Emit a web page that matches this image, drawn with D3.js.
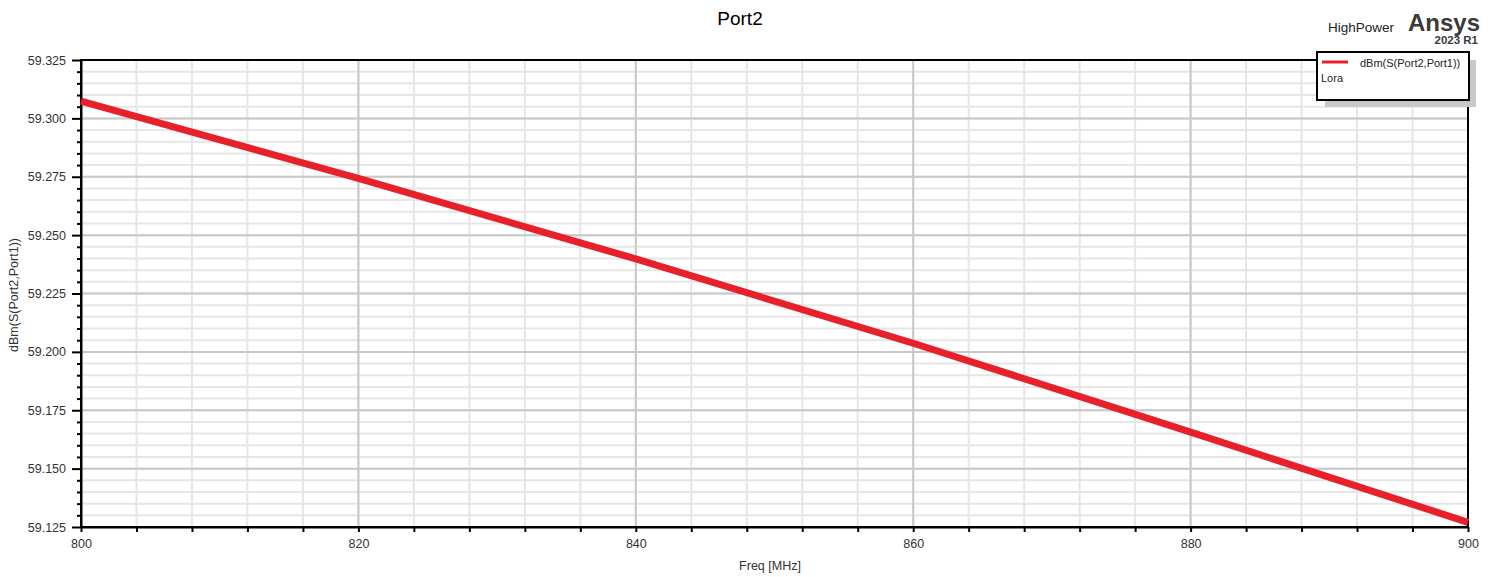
<!DOCTYPE html>
<html>
<head>
<meta charset="utf-8">
<script src="https://cdn.jsdelivr.net/npm/d3@7"></script>
<style>
  body { margin: 0; background: #fff; }
  text { font-family: "Liberation Sans", Arial, sans-serif; }
</style>
</head>
<body>
<svg id="chart" width="1495" height="577"></svg>
<script>
// Data
const freqs = [800, 820, 840, 860, 880, 900];
const dbm = [59.3074, 59.2743, 59.2398, 59.2037, 59.1656, 59.1270];
const xTicks = [800, 820, 840, 860, 880, 900];
const yTicks = [59.125, 59.150, 59.175, 59.200, 59.225, 59.250, 59.275, 59.300, 59.325];

const svg = d3.select("#chart");
const plotL = 81, plotR = 1468, plotT = 60, plotB = 527;

const x = d3.scaleLinear().domain([800, 900]).range([plotL, plotR]);
const y = d3.scaleLinear().domain([59.125, 59.325]).range([plotB, plotT]);

const xMinor = d3.range(800, 900.001, 4);
const yMinor = d3.range(0, 41).map(i => 59.125 + i * 0.005);
const isMajorY = d => yTicks.some(t => Math.abs(t - d) < 1e-6);

// minor grid
svg.append("g").selectAll("line").data(xMinor).enter().append("line")
    .attr("x1", d => x(d)).attr("x2", d => x(d))
    .attr("y1", plotT).attr("y2", plotB)
    .attr("stroke", "#e6e6e6").attr("stroke-width", 2);
svg.append("g").selectAll("line").data(yMinor).enter().append("line")
    .attr("x1", plotL).attr("x2", plotR)
    .attr("y1", d => y(d)).attr("y2", d => y(d))
    .attr("stroke", "#e6e6e6").attr("stroke-width", 2);

// major grid
svg.append("g").selectAll("line").data(xTicks).enter().append("line")
    .attr("x1", d => x(d)).attr("x2", d => x(d))
    .attr("y1", plotT).attr("y2", plotB)
    .attr("stroke", "#c8c8c8").attr("stroke-width", 2);
svg.append("g").selectAll("line").data(yTicks).enter().append("line")
    .attr("x1", plotL).attr("x2", plotR)
    .attr("y1", d => y(d)).attr("y2", d => y(d))
    .attr("stroke", "#c8c8c8").attr("stroke-width", 2);

// frame
svg.append("rect")
    .attr("x", plotL).attr("y", plotT)
    .attr("width", plotR - plotL).attr("height", plotB - plotT)
    .attr("fill", "none").attr("stroke", "#000").attr("stroke-width", 2);

// axes
const xAxis = d3.axisBottom(x).tickValues(xMinor).tickSize(5).tickSizeOuter(0)
    .tickFormat(d => xTicks.includes(d) ? d : "");
const gx = svg.append("g").attr("transform", `translate(0,${plotB})`).call(xAxis);
gx.select(".domain").attr("stroke-width", 2);
gx.selectAll(".tick line").attr("stroke-width", 2);
gx.selectAll(".tick text").attr("font-size", 12.5).attr("fill", "#333").attr("y", 12);

const yAxis = d3.axisLeft(y).tickValues(yMinor).tickSize(4).tickSizeOuter(0)
    .tickFormat(d => isMajorY(d) ? d3.format(".3f")(d) : "");
const gy = svg.append("g").attr("transform", `translate(${plotL},0)`).call(yAxis);
gy.select(".domain").attr("stroke-width", 2);
gy.selectAll(".tick line").attr("stroke-width", 2)
    .attr("x2", d => isMajorY(d) ? -9 : -4);
gy.selectAll(".tick text").attr("font-size", 12.5).attr("fill", "#333").attr("x", -15);

// data line
svg.append("path")
    .datum(freqs.map((f, i) => [f, dbm[i]]))
    .attr("d", d3.line().x(d => x(d[0])).y(d => y(d[1])).curve(d3.curveMonotoneX))
    .attr("fill", "none").attr("stroke", "#e8202a").attr("stroke-width", 7);

// titles
svg.append("text").attr("x", 740).attr("y", 25).attr("text-anchor", "middle")
    .attr("font-size", 19).text("Port2");
svg.append("text").attr("x", 770).attr("y", 570).attr("text-anchor", "middle")
    .attr("font-size", 12.5).attr("fill", "#333").text("Freq [MHz]");
svg.append("text").attr("transform", "translate(18,295) rotate(-90)")
    .attr("text-anchor", "middle").attr("font-size", 12.5).attr("fill", "#333")
    .text("dBm(S(Port2,Port1))");

// branding
svg.append("text").attr("x", 1394).attr("y", 32).attr("text-anchor", "end")
    .attr("font-size", 13.5).attr("fill", "#222").text("HighPower");
svg.append("text").attr("x", 1480).attr("y", 31).attr("text-anchor", "end")
    .attr("font-size", 24).attr("font-weight", "bold").attr("fill", "#3a3a3a").text("Ansys");
svg.append("text").attr("x", 1478).attr("y", 44).attr("text-anchor", "end")
    .attr("font-size", 11.5).attr("font-weight", "bold").attr("fill", "#3a3a3a").text("2023 R1");

// legend
const lg = svg.append("g");
lg.append("rect").attr("x", 1325).attr("y", 60).attr("width", 151).attr("height", 47)
    .attr("fill", "#c8c8c8");
lg.append("rect").attr("x", 1317).attr("y", 52).attr("width", 152).attr("height", 48)
    .attr("fill", "#fff").attr("stroke", "#000").attr("stroke-width", 2);
lg.append("line").attr("x1", 1322).attr("x2", 1348).attr("y1", 62).attr("y2", 62)
    .attr("stroke", "#e8202a").attr("stroke-width", 3);
lg.append("text").attr("x", 1360).attr("y", 67).attr("font-size", 11).attr("fill", "#222")
    .text("dBm(S(Port2,Port1))");
lg.append("text").attr("x", 1321).attr("y", 82).attr("font-size", 11).attr("fill", "#222")
    .text("Lora");
</script>
</body>
</html>
